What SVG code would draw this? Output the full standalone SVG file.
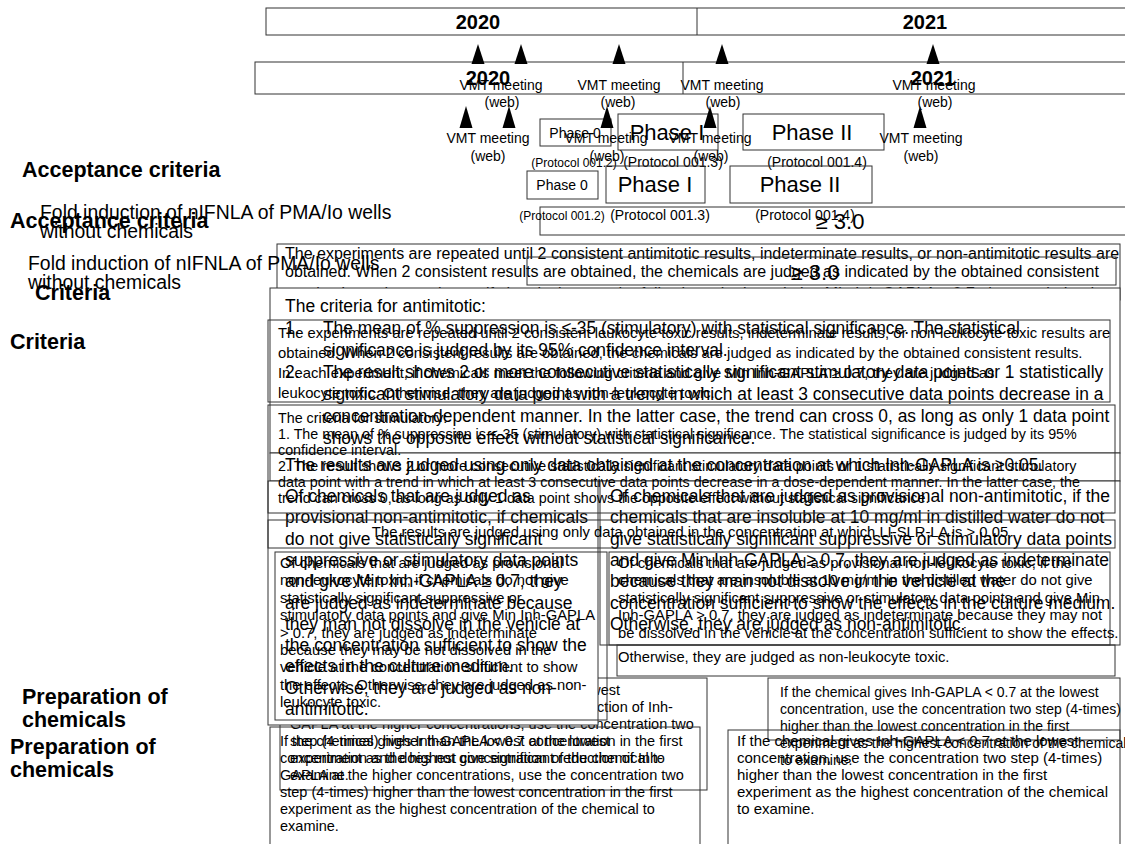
<svg xmlns="http://www.w3.org/2000/svg" width="1125" height="844" viewBox="0 0 1125 844">
<style>
text{font-family:"Liberation Sans",Arial,sans-serif;fill:#000}
.ba{fill:#fff;stroke:#333;stroke-width:1}
.bb{fill:none;stroke:#333;stroke-width:1}
.yr{font-size:20px;font-weight:bold;text-anchor:middle}
.vmt{font-size:14px;text-anchor:middle}
.lbl{font-size:21.5px;font-weight:bold}
.fold{font-size:19.4px}
.p0{font-size:14px;text-anchor:middle}
.p1{font-size:22px;text-anchor:middle}
.pr2{font-size:12px;text-anchor:middle}
.pr3{font-size:14px;text-anchor:middle}
.ge{font-size:22px;text-anchor:middle}
.ta{font-size:18.5px}
.te{font-size:16px}
.tb{font-size:14.8px}
.ts{font-size:14.3px}
.tp{font-size:14.5px}
.tr{font-size:15px}
.tq{font-size:14px}
.tri{fill:#000}
</style>
<rect width="1125" height="844" fill="#fff"/>

<!-- ===== Layer A ===== -->
<g id="timeline-a">
<rect class="ba" x="266" y="8" width="870" height="27"/>
<line x1="697" y1="8" x2="697" y2="35" stroke="#333"/>
<text class="yr" x="478" y="29">2020</text>
<text class="yr" x="925" y="29">2021</text>
</g>
<g id="meetings-a">
<text class="vmt" x="501" y="90">VMT meeting</text><text class="vmt" x="502" y="107">(web)</text>
<text class="vmt" x="619" y="90">VMT meeting</text><text class="vmt" x="618" y="107">(web)</text>
<text class="vmt" x="722" y="90">VMT meeting</text><text class="vmt" x="723" y="107">(web)</text>
<text class="vmt" x="934" y="90">VMT meeting</text><text class="vmt" x="935" y="107">(web)</text>
</g>
<g id="phases-a">
<rect class="ba" x="540" y="119" width="71" height="27"/>
<text class="p0" x="575" y="138">Phase 0</text>
<rect class="ba" x="618" y="114" width="100" height="36"/>
<text class="p1" x="667" y="140">Phase I</text>
<rect class="ba" x="743" y="114" width="141" height="36"/>
<text class="p1" x="812" y="140">Phase II</text>
<text class="pr2" x="574" y="167">(Protocol 001.2)</text>
<text class="pr3" x="673" y="167">(Protocol 001.3)</text>
<text class="pr3" x="817" y="167">(Protocol 001.4)</text>
</g>
<g id="labels-a">
<text class="lbl" x="22" y="177">Acceptance criteria</text>
<text class="fold" x="40" y="219">Fold induction of nIFNLA of PMA/Io wells</text>
<text class="fold" x="40" y="238">without chemicals</text>
<text class="lbl" x="35" y="300">Criteria</text>
<text class="lbl" x="22" y="704">Preparation of</text>
<text class="lbl" x="22" y="727">chemicals</text>
</g>
<g id="accept-a">
<rect class="ba" x="540" y="207" width="600" height="28"/>
<text class="ge" x="840" y="229">≥ 3.0</text>
</g>
<g id="exp-a">
<rect class="ba" x="277" y="244" width="843" height="56"/>
<text class="te" x="285" y="259">The experiments are repeated until 2 consistent antimitotic results, indeterminate results, or non-antimitotic results are</text>
<text class="te" x="285" y="277">obtained. When 2 consistent results are obtained, the chemicals are judged as indicated by the obtained consistent</text>
<text class="te" x="285" y="299">results. In each experiment, if chemicals meet the following criteria and give Min Inh-GAPLA ≥ 0.7, they are judged as</text>
</g>
<g id="crit-a">
<rect class="ba" x="270" y="288" width="850" height="165"/>
<g transform="translate(285 0) scale(0.945 1)">
<text class="ta" x="0" y="312">The criteria for antimitotic:</text>
<text class="ta" x="0" y="334">1.</text>
<text class="ta" x="0" y="378">2.</text>
</g>
<g transform="translate(323 0) scale(0.94 1)">
<text class="ta" x="0" y="334">The mean of % suppression is ≤-35 (stimulatory) with statistical significance. The statistical</text>
<text class="ta" x="0" y="356">significance is judged by its 95% confidence interval.</text>
<text class="ta" x="0" y="378">The result shows 2 or more consecutive statistically significant stimulatory data points or 1 statistically</text>
<text class="ta" x="0" y="400">significant stimulatory data point with a trend in which at least 3 consecutive data points decrease in a</text>
<text class="ta" x="0" y="422">concentration-dependent manner. In the latter case, the trend can cross 0, as long as only 1 data point</text>
<text class="ta" x="0" y="444">shows the opposite effect without statistical significance.</text>
</g>
</g>
<g id="results-a">
<rect class="ba" x="270" y="453" width="850" height="28"/>
<text class="ta" transform="translate(285 0) scale(0.945 1)" x="0" y="471">The results are judged using only data obtained at the concentration at which Inh-GAPLA is ≥0.05.</text>
</g>
<g id="prep-left-a">
<rect class="ba" x="280" y="678" width="427" height="112"/>
<text class="tp" x="290" y="695">If the chemical gives Inh-GAPLA &lt; 0.7 at the lowest</text>
<text class="tp" x="290" y="712">concentration and does not give significant reduction of Inh-</text>
<text class="tp" x="290" y="729">GAPLA at the higher concentrations, use the concentration two</text>
<text class="tp" x="290" y="746">step (4-times) higher than the lowest concentration in the first</text>
<text class="tp" x="290" y="763">experiment as the highest concentration of the chemical to</text>
<text class="tp" x="290" y="780">examine.</text>
</g>
<g id="prep-right-a">
<rect class="ba" x="768" y="678" width="352" height="62"/>
<text class="tq" x="780" y="697">If the chemical gives Inh-GAPLA &lt; 0.7 at the lowest</text>
<text class="tq" x="780" y="714">concentration, use the concentration two step (4-times)</text>
<text class="tq" x="780" y="731">higher than the lowest concentration in the first</text>
<text class="tq" x="780" y="748">experiment as the highest concentration of the chemical</text>
<text class="tq" x="780" y="765">to examine.</text>
</g>
<g id="left-a">
<rect class="ba" x="268" y="481" width="330" height="244"/>
<g transform="translate(285 0) scale(0.945 1)">
<text class="ta" x="0" y="502">Of chemicals that are judged as</text>
<text class="ta" x="0" y="523">provisional non-antimitotic, if chemicals</text>
<text class="ta" x="0" y="545">do not give statistically significant</text>
<text class="ta" x="0" y="566">suppressive or stimulatory data points</text>
<text class="ta" x="0" y="587">and give Min Inh-GAPLA ≥ 0.7, they</text>
<text class="ta" x="0" y="609">are judged as indeterminate because</text>
<text class="ta" x="0" y="630">they man not dissolve in the vehicle at</text>
<text class="ta" x="0" y="651">the concentration sufficient to show the</text>
<text class="ta" x="0" y="672">effects in the culture medium.</text>
<text class="ta" x="0" y="694">Otherwise, they are judged as non-</text>
<text class="ta" x="0" y="715">antimitotic.</text>
</g>
</g>
<g id="right-a">
<rect class="ba" x="600" y="481" width="520" height="164"/>
<g transform="translate(610 0) scale(0.945 1)">
<text class="ta" x="0" y="502">Of chemicals that are judged as provisional non-antimitotic, if the</text>
<text class="ta" x="0" y="523">chemicals that are insoluble at 10 mg/ml in distilled water do not</text>
<text class="ta" x="0" y="545">give statistically significant suppressive or stimulatory data points</text>
<text class="ta" x="0" y="566">and give Min Inh-GAPLA ≥ 0.7, they are judged as indeterminate</text>
<text class="ta" x="0" y="587">because they man not dissolve in the vehicle at the</text>
<text class="ta" x="0" y="609">concentration sufficient to show the effects in the culture medium.</text>
<text class="ta" x="0" y="630">Otherwise, they are judged as non-antimitotic.</text>
</g>
</g>

<!-- ===== Layer B ===== -->
<g id="timeline-b">
<rect class="bb" x="255" y="62" width="875" height="32"/>
<line x1="683" y1="62" x2="683" y2="94" stroke="#333"/>
<text class="yr" x="488" y="85">2020</text>
<text class="yr" x="933" y="85">2021</text>
</g>
<g id="meetings-b">
<text class="vmt" x="488" y="143">VMT meeting</text><text class="vmt" x="488" y="161">(web)</text>
<text class="vmt" x="606" y="143">VMT meeting</text><text class="vmt" x="607" y="161">(web)</text>
<text class="vmt" x="710" y="143">VMT meeting</text><text class="vmt" x="711" y="161">(web)</text>
<text class="vmt" x="921" y="143">VMT meeting</text><text class="vmt" x="921" y="161">(web)</text>
</g>
<g id="phases-b">
<rect class="bb" x="527" y="171" width="71" height="28"/>
<text class="p0" x="562" y="190">Phase 0</text>
<rect class="bb" x="606" y="166" width="99" height="37"/>
<text class="p1" x="655" y="192">Phase I</text>
<rect class="bb" x="730" y="166" width="142" height="37"/>
<text class="p1" x="800" y="192">Phase II</text>
<text class="pr2" x="562" y="220">(Protocol 001.2)</text>
<text class="pr3" x="660" y="220">(Protocol 001.3)</text>
<text class="pr3" x="805" y="220">(Protocol 001.4)</text>
</g>
<g id="labels-b">
<text class="lbl" x="10" y="228">Acceptance criteria</text>
<text class="fold" x="28" y="270">Fold induction of nIFNLA of PMA/Io wells</text>
<text class="fold" x="28" y="289">without chemicals</text>
<text class="lbl" x="10" y="349">Criteria</text>
<text class="lbl" x="10" y="754">Preparation of</text>
<text class="lbl" x="10" y="777">chemicals</text>
</g>
<g id="accept-b">
<rect class="bb" x="527" y="257" width="589" height="28"/>
<text class="ge" x="815" y="280">≥ 3.0</text>
</g>
<g id="exp-b">
<rect class="bb" x="268" y="320" width="842" height="82"/>
<text class="tb" x="278" y="338">The experiments are repeated until 2 consistent leukocyte toxic results, indeterminate results, or non-leukocyte toxic results are</text>
<text class="tb" x="278" y="358">obtained. When 2 consistent results are obtained, the chemicals are judged as indicated by the obtained consistent results.</text>
<text class="tb" x="278" y="378">In each experiment, if chemicals meet the following criteria and give Min Inh-GAPLA ≥ 0.7, they are judged as</text>
<text class="tb" x="278" y="398">leukocyte toxic. Otherwise, they are judged as non-leukocyte toxic.</text>
</g>
<g id="stim-b">
<rect class="bb" x="268" y="405" width="847" height="108"/>
<text class="ts" x="278" y="423">The criteria for stimulatory:</text>
<text class="ts" x="278" y="439">1. The mean of % suppression is ≤-35 (stimulatory) with statistical significance. The statistical significance is judged by its 95%</text>
<text class="ts" x="278" y="455">confidence interval.</text>
<text class="ts" x="278" y="471">2. The result shows 2 or more consecutive statistically significant stimulatory data points or 1 statistically significant stimulatory</text>
<text class="ts" x="278" y="487">data point with a trend in which at least 3 consecutive data points decrease in a dose-dependent manner. In the latter case, the</text>
<text class="ts" x="278" y="503">trend can cross 0, as long as only 1 data point shows the opposite effect without statistical significance.</text>
</g>
<g id="results-b">
<rect class="bb" x="268" y="520" width="847" height="28"/>
<text class="tb" x="690" y="537" text-anchor="middle">The results are judged using only data obtained in the concentration at which LI-SLR-LA is &gt; 0.05</text>
</g>
<g id="left-b">
<rect class="bb" x="275" y="552" width="332" height="168"/>
<text class="tb" x="280" y="568">Of chemicals that are judged as provisional</text>
<text class="tb" x="280" y="585">non-leukocyte toxic, if chemicals do not give</text>
<text class="tb" x="280" y="603">statistically significant suppressive or</text>
<text class="tb" x="280" y="620">stimulatory data points and give Min Inh-GAPLA</text>
<text class="tb" x="280" y="638">&gt; 0.7, they are judged as indeterminate</text>
<text class="tb" x="280" y="655">because they may be not dissolved in the</text>
<text class="tb" x="280" y="672">vehicle at the concentration sufficient to show</text>
<text class="tb" x="280" y="690">the effects. Otherwise, they are judged as non-</text>
<text class="tb" x="280" y="707">leukocyte toxic.</text>
</g>
<g id="right-b">
<rect class="bb" x="609" y="552" width="501" height="93"/>
<text class="tb" x="618" y="568">Of chemicals that are judged as provisional non-leukocyte toxic, if the</text>
<text class="tb" x="618" y="585">chemicals that are insoluble at 10 mg/ml in the distilled water do not give</text>
<text class="tb" x="618" y="603">statistically significant suppressive or stimulatory data points and give Min</text>
<text class="tb" x="618" y="620">Inh-GAPLA &gt; 0.7, they are judged as indeterminate because they may not</text>
<text class="tb" x="618" y="638">be dissolved in the vehicle at the concentration sufficient to show the effects.</text>
<rect class="bb" x="617" y="645" width="498" height="31"/>
<text class="tb" x="618" y="662">Otherwise, they are judged as non-leukocyte toxic.</text>
</g>
<g id="prep-left-b">
<rect class="bb" x="270" y="727" width="430" height="125"/>
<text class="tp" x="280" y="746">If the chemical gives Inh-GAPLA &lt; 0.7 at the lowest</text>
<text class="tp" x="280" y="763">concentration and does not give significant reduction of Inh-</text>
<text class="tp" x="280" y="780">GAPLA at the higher concentrations, use the concentration two</text>
<text class="tp" x="280" y="797">step (4-times) higher than the lowest concentration in the first</text>
<text class="tp" x="280" y="814">experiment as the highest concentration of the chemical to</text>
<text class="tp" x="280" y="831">examine.</text>
</g>
<g id="prep-right-b">
<rect class="bb" x="728" y="730" width="392" height="122"/>
<text class="tr" x="737" y="746">If the chemical gives Inh-GAPLA &lt; 0.7 at the lowest</text>
<text class="tr" x="737" y="763">concentration, use the concentration two step (4-times)</text>
<text class="tr" x="737" y="780">higher than the lowest concentration in the first</text>
<text class="tr" x="737" y="797">experiment as the highest concentration of the chemical</text>
<text class="tr" x="737" y="814">to examine.</text>
</g>

<g id="connectors">
<path class="tri" d="M478 44 L471.5 64 L484.5 64 Z"/>
<path class="tri" d="M521 44 L514.5 64 L527.5 64 Z"/>
<path class="tri" d="M619 44 L612.5 64 L625.5 64 Z"/>
<path class="tri" d="M722 44 L715.5 64 L728.5 64 Z"/>
<path class="tri" d="M933 44 L926.5 64 L939.5 64 Z"/>
<path class="tri" d="M466 106 L459.5 128 L472.5 128 Z"/>
<path class="tri" d="M509 106 L502.5 128 L515.5 128 Z"/>
<path class="tri" d="M607 106 L600.5 128 L613.5 128 Z"/>
<path class="tri" d="M710 106 L703.5 128 L716.5 128 Z"/>
<path class="tri" d="M920 106 L913.5 128 L926.5 128 Z"/>
</g>
</svg>
